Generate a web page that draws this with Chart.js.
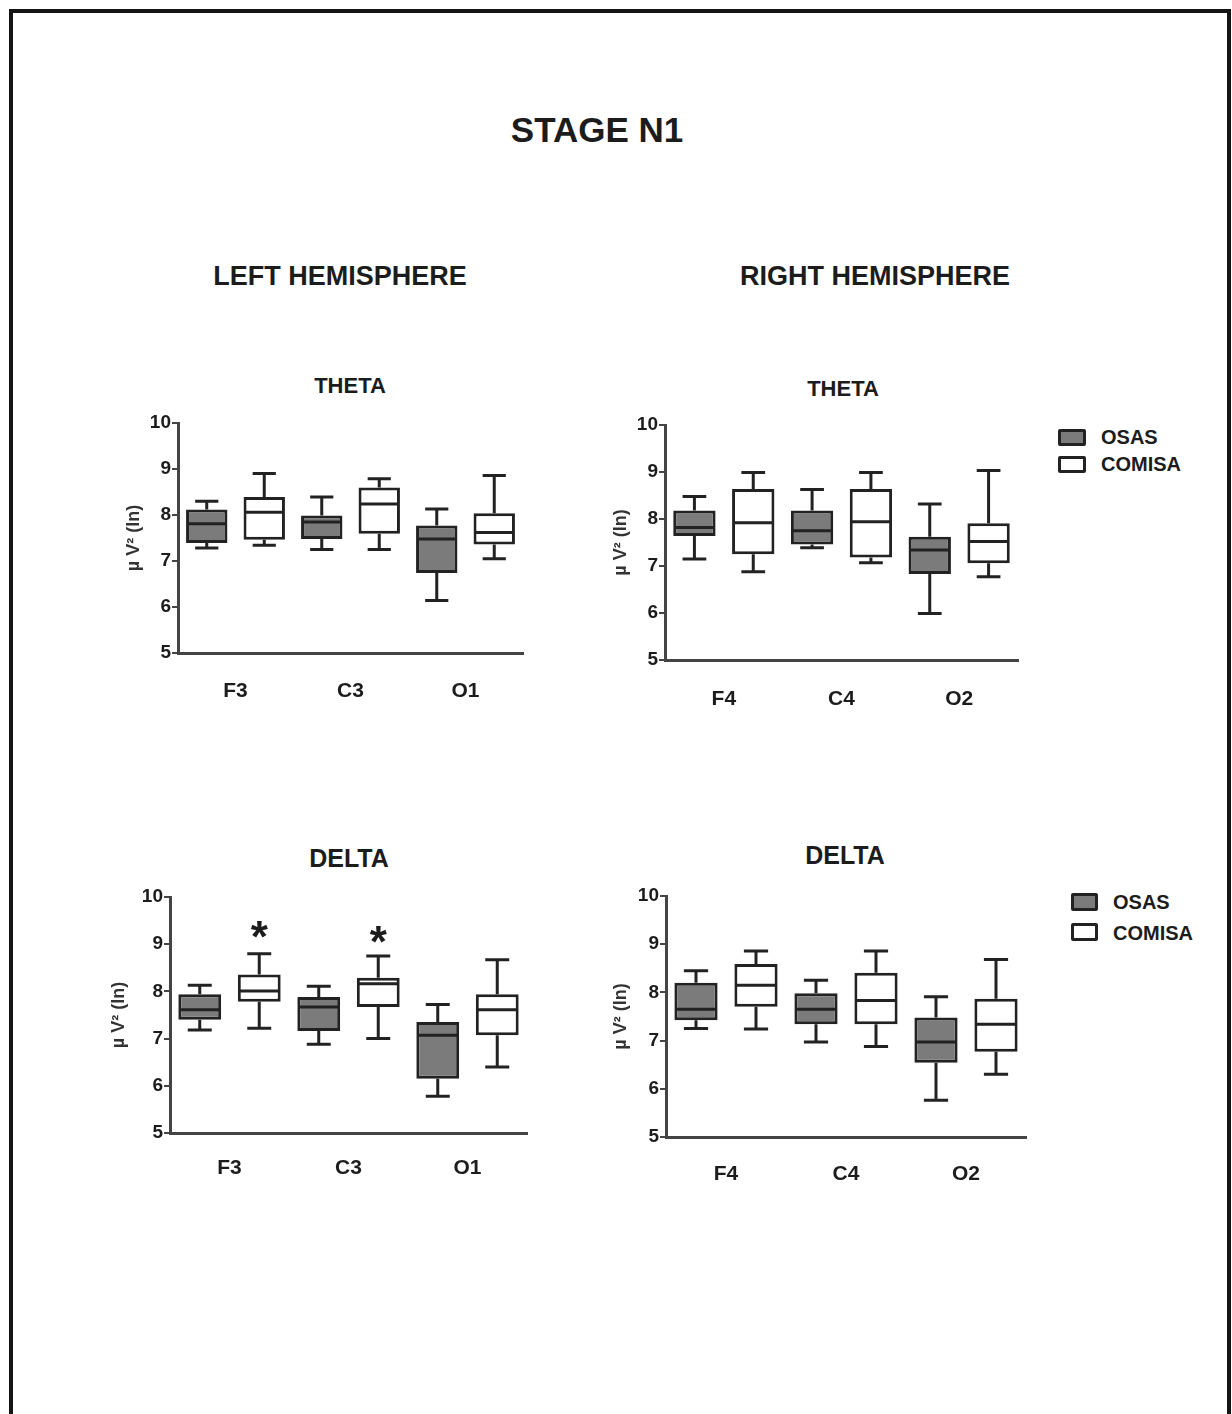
<!DOCTYPE html>
<html>
<head>
<meta charset="utf-8">
<script src="https://cdn.jsdelivr.net/npm/chart.js@4.4.0/dist/chart.umd.min.js"></script>
<style>
  body { margin:0; background:#fff; width:1232px; height:1414px; position:relative; overflow:hidden;
         font-family:"Liberation Sans", Arial, sans-serif; color:#1c1c1c; }
  .frame { position:absolute; left:9px; top:9px; width:1214px; height:1500px; border:4px solid #141414; border-bottom:none; }
  .t { position:absolute; font-weight:bold; white-space:nowrap; transform:translate(-50%,-50%); }
  canvas { position:absolute; }
  .leg { position:absolute; font-weight:bold; font-size:20px; white-space:nowrap; }
  .sw { position:absolute; border:3px solid #222; border-radius:2px; box-sizing:border-box; }
</style>
</head>
<body>
<div class="frame"></div>
<div class="t" style="left:597px;top:130px;font-size:35px">STAGE N1</div>
<div class="t" style="left:340px;top:276px;font-size:27px">LEFT HEMISPHERE</div>
<div class="t" style="left:875px;top:276px;font-size:27px">RIGHT HEMISPHERE</div>
<div class="t" style="left:350px;top:386px;font-size:22px">THETA</div>
<div class="t" style="left:843px;top:389px;font-size:22px">THETA</div>
<div class="t" style="left:349px;top:858px;font-size:25px">DELTA</div>
<div class="t" style="left:845px;top:855px;font-size:25px">DELTA</div>

<div class="sw" style="left:1058px;top:429px;width:28px;height:17px;background:#7b7b7b"></div>
<div class="leg" style="left:1101px;top:426px">OSAS</div>
<div class="sw" style="left:1058px;top:456px;width:28px;height:17px;background:#fff"></div>
<div class="leg" style="left:1101px;top:453px">COMISA</div>
<div class="sw" style="left:1071px;top:893px;width:27px;height:18px;background:#7b7b7b"></div>
<div class="leg" style="left:1113px;top:891px">OSAS</div>
<div class="sw" style="left:1071px;top:923px;width:27px;height:18px;background:#fff"></div>
<div class="leg" style="left:1113px;top:922px">COMISA</div>

<canvas id="c1"></canvas>
<canvas id="c2"></canvas>
<canvas id="c3"></canvas>
<canvas id="c4"></canvas>

<script>
// values per box: [min, q1, median, q3, max]
const groups = ['OSAS', 'COMISA'];
const leftSites = ['F3', 'C3', 'O1'];
const rightSites = ['F4', 'C4', 'O2'];
const yTicks = [5, 6, 7, 8, 9, 10];

const thetaLeftOsas   = [[7.28, 7.39, 7.81, 8.12, 8.30], [7.25, 7.48, 7.85, 7.99, 8.39], [6.14, 6.74, 7.48, 7.77, 8.13]];
const thetaLeftComisa = [[7.34, 7.46, 8.06, 8.39, 8.90], [7.25, 7.59, 8.24, 8.60, 8.79], [7.05, 7.36, 7.62, 8.04, 8.86]];
const thetaRightOsas   = [[7.15, 7.64, 7.82, 8.18, 8.48], [7.39, 7.46, 7.75, 8.18, 8.63], [5.99, 6.83, 7.34, 7.62, 8.32]];
const thetaRightComisa = [[6.88, 7.25, 7.92, 8.64, 8.99], [7.07, 7.18, 7.94, 8.64, 8.99], [6.77, 7.06, 7.52, 7.91, 9.03]];
const deltaLeftOsas   = [[7.18, 7.40, 7.61, 7.94, 8.13], [6.88, 7.16, 7.67, 7.88, 8.11], [5.78, 6.15, 7.07, 7.35, 7.72]];
const deltaLeftComisa = [[7.22, 7.78, 8.01, 8.36, 8.80], [7.00, 7.67, 8.16, 8.29, 8.75], [6.40, 7.07, 7.61, 7.94, 8.67]];
const deltaRightOsas   = [[7.25, 7.42, 7.65, 8.20, 8.45], [6.97, 7.34, 7.65, 7.98, 8.25], [5.76, 6.54, 6.97, 7.48, 7.91]];
const deltaRightComisa = [[7.24, 7.70, 8.15, 8.59, 8.86], [6.88, 7.34, 7.83, 8.41, 8.86], [6.30, 6.77, 7.34, 7.87, 8.68]];
// significance markers (y value where the * sits), COMISA vs OSAS
const deltaLeftStars = [9.36, 9.26, null];

const FONT = '"Liberation Sans", Arial, sans-serif';
const INK = '#1c1c1c';

const boxPlugin = {
  id: 'boxWhiskers',
  afterDatasetsDraw(chart) {
    const ctx = chart.ctx;
    const y = chart.scales.y;
    ctx.save();
    ctx.strokeStyle = '#222';
    ctx.lineWidth = 3;
    chart.data.datasets.forEach((ds, i) => {
      const meta = chart.getDatasetMeta(i);
      meta.data.forEach((bar, j) => {
        const s = ds.stats[j];
        const cx = bar.x, half = bar.width / 2, cap = bar.width * 0.28;
        const pMin = y.getPixelForValue(s[0]), pQ1 = y.getPixelForValue(s[1]);
        const pMed = y.getPixelForValue(s[2]), pQ3 = y.getPixelForValue(s[3]);
        const pMax = y.getPixelForValue(s[4]);
        ctx.beginPath();
        ctx.moveTo(cx, pQ3); ctx.lineTo(cx, pMax);
        ctx.moveTo(cx - cap, pMax); ctx.lineTo(cx + cap, pMax);
        ctx.moveTo(cx, pQ1); ctx.lineTo(cx, pMin);
        ctx.moveTo(cx - cap, pMin); ctx.lineTo(cx + cap, pMin);
        ctx.moveTo(cx - half + 1, pMed); ctx.lineTo(cx + half - 1, pMed);
        ctx.stroke();
        if (ds.stars && ds.stars[j] != null) {
          ctx.fillStyle = INK;
          ctx.font = 'bold 44px ' + FONT;
          ctx.textAlign = 'center';
          ctx.textBaseline = 'alphabetic';
          ctx.fillText('*', cx, y.getPixelForValue(ds.stars[j]) + 25);
        }
      });
    });
    ctx.restore();
  }
};

function makePanel(id, area, yw, labPad, sites, osas, comisa, stars) {
  const padTop = 20, padRight = 12, xh = 70;
  const cv = document.getElementById(id);
  const w = area.x1 - area.x0 + yw + padRight;
  const h = area.y1 - area.y0 + padTop + xh;
  cv.width = w; cv.height = h;
  cv.style.left = (area.x0 - yw) + 'px';
  cv.style.top = (area.y0 - padTop) + 'px';
  cv.style.width = w + 'px'; cv.style.height = h + 'px';

  new Chart(cv, {
    type: 'bar',
    data: {
      labels: sites,
      datasets: [
        { label: groups[0], data: osas.map(s => [s[1], s[3]]), stats: osas,
          backgroundColor: '#7b7b7b', borderColor: '#222', borderWidth: 3, borderSkipped: false,
          categoryPercentage: 1.0, barPercentage: 0.72 },
        { label: groups[1], data: comisa.map(s => [s[1], s[3]]), stats: comisa, stars: stars,
          backgroundColor: '#ffffff', borderColor: '#222', borderWidth: 3, borderSkipped: false,
          categoryPercentage: 1.0, barPercentage: 0.72 }
      ]
    },
    options: {
      responsive: false,
      animation: false,
      devicePixelRatio: 1,
      layout: { padding: { top: padTop, right: padRight, left: 0, bottom: 0 } },
      plugins: { legend: { display: false }, tooltip: { enabled: false } },
      scales: {
        x: {
          grid: { display: false, drawTicks: false },
          border: { display: true, color: '#444', width: 3 },
          ticks: { color: INK, padding: labPad, font: { family: FONT, size: 21, weight: 'bold' } },
          afterFit(s) { s.height = xh; }
        },
        y: {
          min: 5, max: 10,
          afterBuildTicks(s) { s.ticks = yTicks.map(v => ({ value: v })); },
          grid: { drawOnChartArea: false, drawTicks: true, tickLength: 6, color: '#444', lineWidth: 2 },
          border: { display: true, color: '#444', width: 3 },
          ticks: { color: INK, padding: 1, font: { family: FONT, size: 19, weight: 'bold' } },
          title: { display: true, text: 'µ V² (ln)', color: '#333', padding: 0,
                   font: { family: FONT, size: 18, weight: 'bold' } },
          afterFit(s) { s.width = yw; }
        }
      }
    },
    plugins: [boxPlugin]
  });
}

makePanel('c1', { x0: 178, x1: 523, y0: 423, y1: 653 }, 55, 26, leftSites, thetaLeftOsas, thetaLeftComisa, null);
makePanel('c2', { x0: 665, x1: 1018, y0: 425, y1: 660 }, 55, 27, rightSites, thetaRightOsas, thetaRightComisa, null);
makePanel('c3', { x0: 170, x1: 527, y0: 897, y1: 1133 }, 62, 23, leftSites, deltaLeftOsas, deltaLeftComisa, deltaLeftStars);
makePanel('c4', { x0: 666, x1: 1026, y0: 896, y1: 1137 }, 56, 25, rightSites, deltaRightOsas, deltaRightComisa, null);
</script>
</body>
</html>
